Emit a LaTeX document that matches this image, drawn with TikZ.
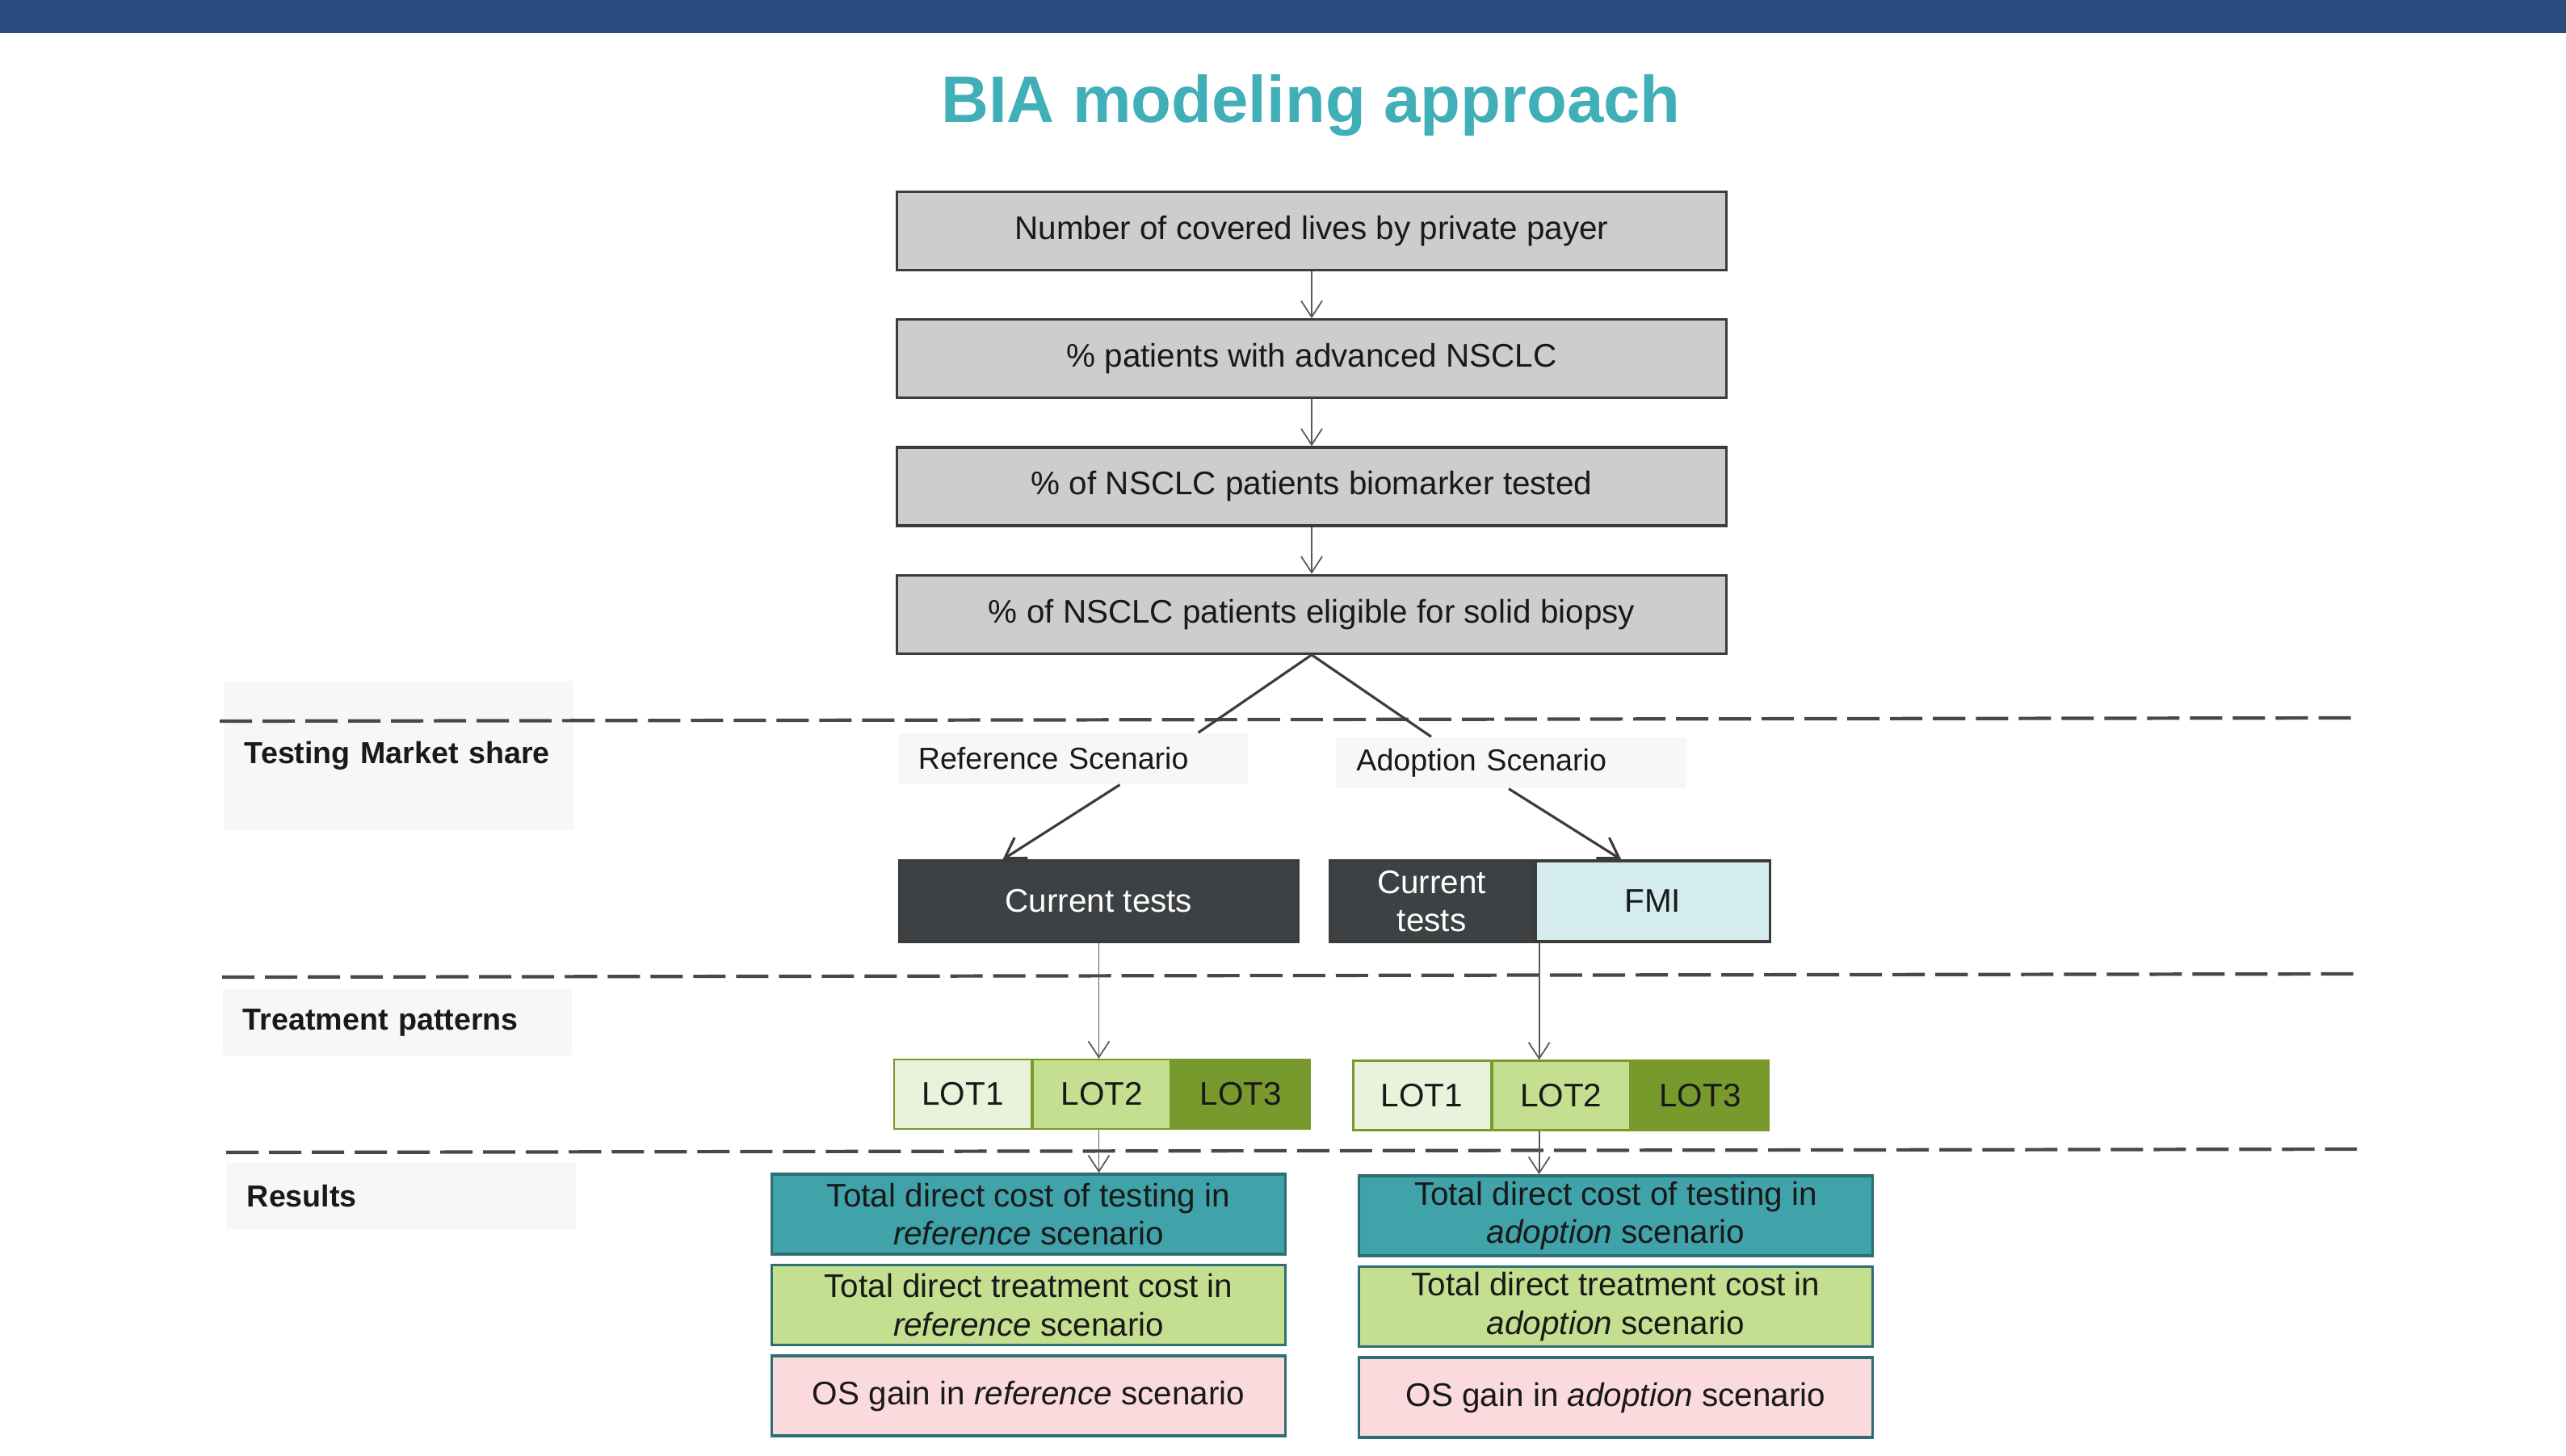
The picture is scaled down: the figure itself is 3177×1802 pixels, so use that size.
\documentclass[tikz,border=0pt]{standalone}
\usepackage{fontspec}
\setmainfont{Liberation Sans}
\usetikzlibrary{arrows.meta,positioning}

\definecolor{barblue}{HTML}{294B7D}
\definecolor{titleteal}{HTML}{40AFB7}
\definecolor{boxgray}{HTML}{CDCDCD}
\definecolor{edgegray}{HTML}{3C3C3C}
\definecolor{darktest}{HTML}{3D4143}
\definecolor{fmiblue}{HTML}{D4ECEE}
\definecolor{lotlight}{HTML}{EAF2DB}
\definecolor{lotmid}{HTML}{C3DF8F}
\definecolor{lotdark}{HTML}{789A2C}
\definecolor{costteal}{HTML}{41A3AA}
\definecolor{osgpink}{HTML}{FBDADD}
\definecolor{resedge}{HTML}{2F6E72}
\definecolor{labelbg}{HTML}{F7F7F7}
\definecolor{dashgray}{HTML}{44494B}

\begin{document}
\begin{tikzpicture}[x=0.01cm, y=-0.01cm, node distance=5.8mm,
  every node/.style={font=\fontsize{11.5}{13.4}\selectfont, text=black!90},
  gbox/.style={draw=edgegray, line width=0.9pt, fill=boxgray, minimum width=10.27cm, minimum height=0.97cm},
  seclbl/.style={fill=labelbg, font=\fontsize{10.7}{12.8}\selectfont\bfseries, text width=3.82cm, align=left, inner xsep=0.25cm, inner ysep=0pt},
  scen/.style={fill=labelbg, font=\fontsize{10.7}{12.8}\selectfont, text width=3.83cm, align=left, inner xsep=0.25cm, inner ysep=0pt, minimum height=0.63cm},
  cur/.style={draw=edgegray, line width=0.9pt, fill=darktest, text=white, minimum height=1cm, align=center, inner sep=0pt},
  lot/.style={draw=lotdark, line width=0.6pt, minimum width=1.7cm, minimum height=0.86cm, inner sep=0pt},
  res/.style={draw=resedge, line width=1pt, minimum width=6.36cm, minimum height=0.99cm, align=center, inner sep=0pt},
  sect/.style={dashgray, line width=1.2pt, dash pattern=on 0.4cm off 0.13cm},
  arr/.style={draw=black!65, line width=0.5pt, -{Straight Barb[length=2mm,width=2.6mm]}},
  split/.style={draw=edgegray, line width=0.9pt},
  sarr/.style={split, -{Straight Barb[length=2.4mm,width=3mm]}}]
\useasboundingbox (0,0) rectangle (3177,1802);
\fill[barblue] (0,0) rectangle (3177,41);
\node[anchor=base, font=\fontsize{23.2}{28}\selectfont\bfseries, text=titleteal] (title) at (1623,151) {BIA modeling approach};

% row labels on the left
\node[seclbl, minimum height=1.85cm] (tms) at (494,935.5) {Testing Market share};
\node[seclbl, minimum height=0.82cm] (trp) at (492,1266) {Treatment patterns};
\node[seclbl, minimum height=0.82cm] (rsl) at (497,1481) {Results};
\draw[sect] (272,893) -- (2911,889);
\draw[sect] (275,1210) -- (2915,1206);
\draw[sect] (280,1427) -- (2918,1423);

% population funnel
\node[gbox] (lives) at (1624,286) {Number of covered lives by private payer};
\node[gbox,below=of lives] (adv) {\% patients with advanced NSCLC};
\node[gbox,below=of adv] (tested) {\% of NSCLC patients biomarker tested};
\node[gbox,below=of tested] (elig) {\% of NSCLC patients eligible for solid biopsy};
\draw[arr] (lives) -- (adv);\draw[arr] (adv) -- (tested);\draw[arr] (tested) -- (elig);

% scenarios
\node[scen] (refl) at (1328.5,939.5) {Reference Scenario};
\node[scen] (adl) at (1871,944.5) {Adoption Scenario};
\draw[split] (elig.south) -- ([xshift=1.55cm]refl.north);
\draw[split] (elig.south) -- ([xshift=-0.99cm]adl.north);

\node[cur, minimum width=4.93cm] (curref) at (1360.5,1116) {Current tests};
\node[cur, minimum width=2.51cm] (curad) at (1772.5,1116) {Current\\tests};
\node[cur, fill=fmiblue, text=black!90, minimum width=2.9cm, right=0pt of curad] (fmi) {FMI};
\draw[sarr] ([xshift=0.58cm]refl.south) -- ([xshift=-1.19cm]curref.north);
\draw[sarr] ([xshift=-0.03cm]adl.south) -- ([xshift=-0.39cm]fmi.north);

% lines of therapy
\node[lot, fill=lotlight] (lota1) at (1192,1355) {LOT1};
\node[lot, fill=lotmid, right=0pt of lota1] (lota2) {LOT2};
\node[lot, fill=lotdark, right=0pt of lota2] (lota3) {LOT3};
\node[lot, fill=lotlight] (lotb1) at (1760.5,1356.5) {LOT1};
\node[lot, fill=lotmid, right=0pt of lotb1] (lotb2) {LOT2};
\node[lot, fill=lotdark, right=0pt of lotb2] (lotb3) {LOT3};
\coordinate (adsplit) at ([xshift=0.06cm]curad.south east);
\draw[arr] (curref.south) -- (curref.south |- lota2.north);
\draw[arr] (adsplit) -- (adsplit |- lotb2.north);

% outputs
\node[res, fill=costteal] (testa) at (1273.5,1503.5) {Total direct cost of testing in\\\textit{reference} scenario};
\node[res, fill=lotmid, below=0.1cm of testa] (treata) {Total direct treatment cost in\\\textit{reference} scenario};
\node[res, fill=osgpink, below=0.1cm of treata] (osa) {OS gain in \textit{reference} scenario};
\node[res, fill=costteal] (testb) at (2000.5,1505.5) {Total direct cost of testing in\\\textit{adoption} scenario};
\node[res, fill=lotmid, below=0.1cm of testb] (treatb) {Total direct treatment cost in\\\textit{adoption} scenario};
\node[res, fill=osgpink, below=0.1cm of treatb] (osb) {OS gain in \textit{adoption} scenario};
\draw[arr] (curref.south |- lota2.south) -- (curref.south |- testa.north);
\draw[arr] (adsplit |- lotb2.south) -- (adsplit |- testb.north);
\end{tikzpicture}
\end{document}
